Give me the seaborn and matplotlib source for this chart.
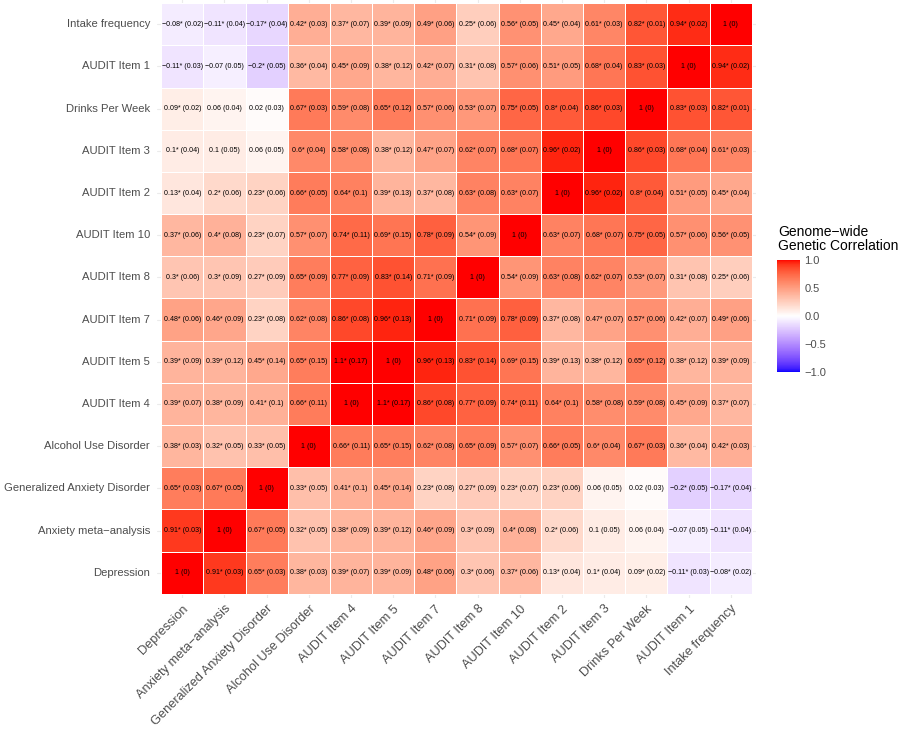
import numpy as np
import pandas as pd
import matplotlib
matplotlib.use("Agg")
import matplotlib.pyplot as plt
from matplotlib.colors import ListedColormap
import seaborn as sns

# ---------------- data ----------------
traits = ["Depression", "Anxiety meta\u2212analysis", "Generalized Anxiety Disorder",
          "Alcohol Use Disorder", "AUDIT Item 4", "AUDIT Item 5", "AUDIT Item 7",
          "AUDIT Item 8", "AUDIT Item 10", "AUDIT Item 2", "AUDIT Item 3",
          "Drinks Per Week", "AUDIT Item 1", "Intake frequency"]

# genetic correlations, one row per trait (columns in `traits` order)
rg_dep = [1, 0.91, 0.65, 0.38, 0.39, 0.39, 0.48, 0.3, 0.37, 0.13, 0.1, 0.09, -0.11, -0.08]
rg_anx = [0.91, 1, 0.67, 0.32, 0.38, 0.39, 0.46, 0.3, 0.4, 0.2, 0.1, 0.06, -0.07, -0.11]
rg_gad = [0.65, 0.67, 1, 0.33, 0.41, 0.45, 0.23, 0.27, 0.23, 0.23, 0.06, 0.02, -0.2, -0.17]
rg_aud = [0.38, 0.32, 0.33, 1, 0.66, 0.65, 0.62, 0.65, 0.57, 0.66, 0.6, 0.67, 0.36, 0.42]
rg_a4 = [0.39, 0.38, 0.41, 0.66, 1, 1.1, 0.86, 0.77, 0.74, 0.64, 0.58, 0.59, 0.45, 0.37]
rg_a5 = [0.39, 0.39, 0.45, 0.65, 1.1, 1, 0.96, 0.83, 0.69, 0.39, 0.38, 0.65, 0.38, 0.39]
rg_a7 = [0.48, 0.46, 0.23, 0.62, 0.86, 0.96, 1, 0.71, 0.78, 0.37, 0.47, 0.57, 0.42, 0.49]
rg_a8 = [0.3, 0.3, 0.27, 0.65, 0.77, 0.83, 0.71, 1, 0.54, 0.63, 0.62, 0.53, 0.31, 0.25]
rg_a10 = [0.37, 0.4, 0.23, 0.57, 0.74, 0.69, 0.78, 0.54, 1, 0.63, 0.68, 0.75, 0.57, 0.56]
rg_a2 = [0.13, 0.2, 0.23, 0.66, 0.64, 0.39, 0.37, 0.63, 0.63, 1, 0.96, 0.8, 0.51, 0.45]
rg_a3 = [0.1, 0.1, 0.06, 0.6, 0.58, 0.38, 0.47, 0.62, 0.68, 0.96, 1, 0.86, 0.68, 0.61]
rg_dpw = [0.09, 0.06, 0.02, 0.67, 0.59, 0.65, 0.57, 0.53, 0.75, 0.8, 0.86, 1, 0.83, 0.82]
rg_a1 = [-0.11, -0.07, -0.2, 0.36, 0.45, 0.38, 0.42, 0.31, 0.57, 0.51, 0.68, 0.83, 1, 0.94]
rg_if = [-0.08, -0.11, -0.17, 0.42, 0.37, 0.39, 0.49, 0.25, 0.56, 0.45, 0.61, 0.82, 0.94, 1]

# standard errors
se_dep = [0, 0.03, 0.03, 0.03, 0.07, 0.09, 0.06, 0.06, 0.06, 0.04, 0.04, 0.02, 0.03, 0.02]
se_anx = [0.03, 0, 0.05, 0.05, 0.09, 0.12, 0.09, 0.09, 0.08, 0.06, 0.05, 0.04, 0.05, 0.04]
se_gad = [0.03, 0.05, 0, 0.05, 0.1, 0.14, 0.08, 0.09, 0.07, 0.06, 0.05, 0.03, 0.05, 0.04]
se_aud = [0.03, 0.05, 0.05, 0, 0.11, 0.15, 0.08, 0.09, 0.07, 0.05, 0.04, 0.03, 0.04, 0.03]
se_a4 = [0.07, 0.09, 0.1, 0.11, 0, 0.17, 0.08, 0.09, 0.11, 0.1, 0.08, 0.08, 0.09, 0.07]
se_a5 = [0.09, 0.12, 0.14, 0.15, 0.17, 0, 0.13, 0.14, 0.15, 0.13, 0.12, 0.12, 0.12, 0.09]
se_a7 = [0.06, 0.09, 0.08, 0.08, 0.08, 0.13, 0, 0.09, 0.09, 0.08, 0.07, 0.06, 0.07, 0.06]
se_a8 = [0.06, 0.09, 0.09, 0.09, 0.09, 0.14, 0.09, 0, 0.09, 0.08, 0.07, 0.07, 0.08, 0.06]
se_a10 = [0.06, 0.08, 0.07, 0.07, 0.11, 0.15, 0.09, 0.09, 0, 0.07, 0.07, 0.05, 0.06, 0.05]
se_a2 = [0.04, 0.06, 0.06, 0.05, 0.1, 0.13, 0.08, 0.08, 0.07, 0, 0.02, 0.04, 0.05, 0.04]
se_a3 = [0.04, 0.05, 0.05, 0.04, 0.08, 0.12, 0.07, 0.07, 0.07, 0.02, 0, 0.03, 0.04, 0.03]
se_dpw = [0.02, 0.04, 0.03, 0.03, 0.08, 0.12, 0.06, 0.07, 0.05, 0.04, 0.03, 0, 0.03, 0.01]
se_a1 = [0.03, 0.05, 0.05, 0.04, 0.09, 0.12, 0.07, 0.08, 0.06, 0.05, 0.04, 0.03, 0, 0.02]
se_if = [0.02, 0.04, 0.04, 0.03, 0.07, 0.09, 0.06, 0.06, 0.05, 0.04, 0.03, 0.01, 0.02, 0]

# pairs without significance star (besides the diagonal)
nonsig_pairs = [("Anxiety meta\u2212analysis", "AUDIT Item 1"),
                ("Anxiety meta\u2212analysis", "Drinks Per Week"),
                ("Anxiety meta\u2212analysis", "AUDIT Item 3"),
                ("Generalized Anxiety Disorder", "Drinks Per Week"),
                ("Generalized Anxiety Disorder", "AUDIT Item 3")]

rg_rows = [rg_dep, rg_anx, rg_gad, rg_aud, rg_a4, rg_a5, rg_a7, rg_a8, rg_a10,
           rg_a2, rg_a3, rg_dpw, rg_a1, rg_if]
se_rows = [se_dep, se_anx, se_gad, se_aud, se_a4, se_a5, se_a7, se_a8, se_a10,
           se_a2, se_a3, se_dpw, se_a1, se_if]

# ---------------- helpers ----------------
def fmt(v):
    s = f"{v:.2f}".rstrip("0").rstrip(".")
    if s in ("-0", ""):
        s = "0"
    return s.replace("-", "\u2212")

nonsig = set()
for a, b in nonsig_pairs:
    nonsig.add((a, b)); nonsig.add((b, a))

rg = pd.DataFrame(rg_rows, index=traits, columns=traits)
se = pd.DataFrame(se_rows, index=traits, columns=traits)
labels = pd.DataFrame("", index=traits, columns=traits)
for r in traits:
    for c in traits:
        star = "" if (r == c or (r, c) in nonsig) else "*"
        labels.loc[r, c] = f"{fmt(rg.loc[r, c])}{star} ({fmt(se.loc[r, c])})"

# top row = Intake frequency
rg_plot = rg.iloc[::-1]
lab_plot = labels.iloc[::-1]

# Lab-space diverging gradient blue-white-red (like ggplot2 scale_fill_gradient2)
def srgb_to_lin(c):
    c = np.asarray(c, float)
    return np.where(c <= 0.04045, c / 12.92, ((c + 0.055) / 1.055) ** 2.4)

def lin_to_srgb(c):
    c = np.clip(c, 0, 1)
    return np.where(c <= 0.0031308, 12.92 * c, 1.055 * c ** (1 / 2.4) - 0.055)

M = np.array([[0.4124564, 0.3575761, 0.1804375],
              [0.2126729, 0.7151522, 0.0721750],
              [0.0193339, 0.1191920, 0.9503041]])
Minv = np.linalg.inv(M)
WP = np.array([0.95047, 1.0, 1.08883])

def rgb_to_lab(rgb):
    xyz = M @ srgb_to_lin(rgb) / WP
    d = 6 / 29
    f = np.where(xyz > d ** 3, np.cbrt(xyz), xyz / (3 * d * d) + 4 / 29)
    return np.array([116 * f[1] - 16, 500 * (f[0] - f[1]), 200 * (f[1] - f[2])])

def lab_to_rgb(lab):
    L, a, b = lab
    fy = (L + 16) / 116
    f = np.array([fy + a / 500, fy, fy - b / 200])
    d = 6 / 29
    xyz = np.where(f > d, f ** 3, 3 * d * d * (f - 4 / 29)) * WP
    return lin_to_srgb(Minv @ xyz)

lo, mid, hi = rgb_to_lab([0, 0, 1]), rgb_to_lab([1, 1, 1]), rgb_to_lab([1, 0, 0])
cols = []
for t in np.linspace(-1, 1, 256):
    if t < 0:
        lab = mid + (lo - mid) * (-t)
    else:
        lab = mid + (hi - mid) * t
    cols.append(lab_to_rgb(lab))
cmap = ListedColormap(np.clip(cols, 0, 1))

# ---------------- plot ----------------
sns.set_theme(style="white")
plt.rcParams["font.family"] = ["Liberation Sans", "DejaVu Sans"]

fig = plt.figure(figsize=(9, 7.29), dpi=100)
ax = fig.add_axes([0.1744, 0.1797, 0.6656, 0.8217])
cax = fig.add_axes([0.8633, 0.4897, 0.0256, 0.1536])

sns.heatmap(rg_plot, ax=ax, cbar_ax=cax, cmap=cmap, vmin=-1, vmax=1,
            annot=lab_plot, fmt="", annot_kws={"size": 5.1, "color": "black"},
            linewidths=0.6, linecolor="white", square=False)

n = len(traits)
ax.set_xlim(-0.1, n + 0.1)
ax.set_ylim(n + 0.1, -0.1)
ax.set_axisbelow(True)
for k in range(n):
    ax.axvline(k + 0.5, color="#ebebeb", lw=0.8, zorder=0)
    ax.axhline(k + 0.5, color="#ebebeb", lw=0.8, zorder=0)
for s in ax.spines.values():
    s.set_visible(False)
ax.set_xlabel("")
ax.set_ylabel("")
ax.tick_params(axis="both", length=0, colors="#4d4d4d")
ax.tick_params(axis="y", pad=5, labelsize=8.1)
ax.tick_params(axis="x", pad=3.5, labelsize=9.2)
ax.set_xticklabels(rg_plot.columns, rotation=45, ha="right", rotation_mode="anchor",
                   color="#4d4d4d")
ax.set_yticklabels(rg_plot.index, rotation=0, color="#4d4d4d")

# colorbar styling
cb = ax.collections[0].colorbar
cb.outline.set_visible(False)
cb.set_ticks([-1, -0.5, 0, 0.5, 1])
cb.set_ticklabels(["\u22121.0", "\u22120.5", "0.0", "0.5", "1.0"])
cax.tick_params(length=4, width=0.8, color="white", direction="in",
                labelsize=8, labelcolor="#4d4d4d", pad=3)
fig.text(0.8645, 0.653, "Genome\u2212wide\nGenetic Correlation", ha="left",
         va="bottom", fontsize=10, color="black", linespacing=1.0)

fig.savefig("out.png", dpi=100)
